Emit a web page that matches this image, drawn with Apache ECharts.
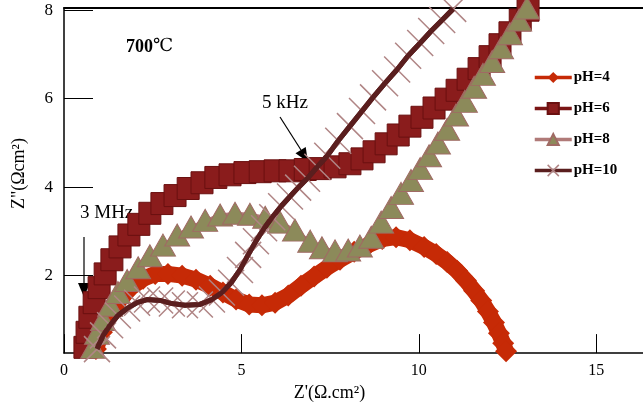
<!DOCTYPE html>
<html>
<head>
<meta charset="utf-8">
<script src="https://cdn.jsdelivr.net/npm/echarts@6/dist/echarts.min.js"></script>
<style>
  html, body { margin: 0; padding: 0; background: #fff; }
  #chart { width: 643px; height: 407px; }
</style>
</head>
<body>
<div id="chart"></div>
<script>
// Nyquist plots of cells at 700 °C, Z' (real) vs Z'' (imaginary), Ω·cm²
const seriesNames = ['pH=4', 'pH=6', 'pH=8', 'pH=10'];

const pH4Re = [0.90, 1.07, 1.30, 1.58, 1.89, 2.23, 2.57, 2.93, 3.33, 3.72, 4.12, 4.48, 4.85, 5.22, 5.58, 5.95, 6.32, 6.68, 7.05, 7.41, 7.78, 8.18, 8.57, 8.97, 9.36, 9.75, 10.15, 10.49, 10.80, 11.08, 11.33, 11.56, 11.76, 11.95, 12.12, 12.26, 12.38, 12.46];
const pH4Im = [0.34, 0.72, 1.10, 1.46, 1.73, 1.93, 2.04, 2.04, 2.00, 1.91, 1.77, 1.62, 1.46, 1.35, 1.33, 1.39, 1.55, 1.77, 1.98, 2.18, 2.36, 2.54, 2.69, 2.83, 2.87, 2.80, 2.65, 2.49, 2.31, 2.11, 1.89, 1.66, 1.44, 1.19, 0.94, 0.70, 0.47, 0.29];

const pH6Re = [0.59, 0.65, 0.73, 0.85, 0.99, 1.16, 1.35, 1.58, 1.83, 2.11, 2.42, 2.76, 3.13, 3.50, 3.89, 4.28, 4.68, 5.10, 5.53, 5.95, 6.37, 6.80, 7.22, 7.64, 8.06, 8.40, 8.74, 9.08, 9.42, 9.75, 10.09, 10.43, 10.77, 11.08, 11.39, 11.70, 12.01, 12.29, 12.57, 12.86, 13.08];
const pH6Im = [0.38, 0.72, 1.06, 1.39, 1.73, 2.04, 2.36, 2.65, 2.92, 3.16, 3.41, 3.63, 3.81, 3.97, 4.10, 4.22, 4.28, 4.33, 4.35, 4.37, 4.37, 4.40, 4.42, 4.46, 4.53, 4.64, 4.80, 4.98, 5.18, 5.38, 5.58, 5.79, 5.99, 6.19, 6.44, 6.68, 6.95, 7.22, 7.49, 7.78, 8.00];

const pH8Re = [0.82, 0.93, 1.10, 1.30, 1.52, 1.78, 2.09, 2.42, 2.79, 3.19, 3.58, 3.98, 4.40, 4.82, 5.24, 5.67, 6.09, 6.51, 6.94, 7.27, 7.64, 8.01, 8.34, 8.66, 8.94, 9.22, 9.50, 9.78, 10.04, 10.29, 10.54, 10.80, 11.05, 11.30, 11.56, 11.81, 12.07, 12.32, 12.57, 12.83, 13.05];
const pH8Im = [0.38, 0.70, 1.01, 1.33, 1.62, 1.89, 2.18, 2.45, 2.69, 2.92, 3.10, 3.25, 3.37, 3.41, 3.39, 3.32, 3.21, 3.03, 2.78, 2.63, 2.56, 2.58, 2.67, 2.87, 3.21, 3.54, 3.86, 4.15, 4.42, 4.71, 5.00, 5.31, 5.63, 5.94, 6.26, 6.55, 6.84, 7.15, 7.47, 7.78, 8.05];

const pH10Re = [0.93, 1.10, 1.30, 1.52, 1.78, 2.06, 2.34, 2.71, 3.04, 3.41, 3.83, 4.17, 4.45, 4.71, 4.96, 5.19, 5.41, 5.64, 5.87, 6.12, 6.37, 6.60, 6.85, 7.14, 7.42, 7.73, 8.06, 8.40, 8.71, 9.05, 9.39, 9.70, 10.04, 10.35, 10.66, 10.97];
const pH10Im = [0.34, 0.65, 0.88, 1.10, 1.26, 1.39, 1.46, 1.44, 1.37, 1.33, 1.35, 1.46, 1.62, 1.84, 2.13, 2.47, 2.78, 3.07, 3.32, 3.57, 3.79, 3.99, 4.19, 4.46, 4.71, 5.05, 5.38, 5.72, 6.03, 6.35, 6.66, 6.97, 7.26, 7.53, 7.78, 8.03];

const xTicks = [0, 5, 10, 15];
const yTicks = [2, 4, 6, 8];

const pairs = (re, im) => re.map((v, i) => [v, im[i]]);

const serif = "'Liberation Serif', 'Times New Roman', serif";
const crossPath = 'path://M0,0L10,10M10,0L0,10';

const chart = echarts.init(document.getElementById('chart'), null, { renderer: 'canvas' });

const option = {
  animation: false,
  backgroundColor: '#fff',
  grid: { left: 64, top: 8, right: 0, bottom: 51 },
  xAxis: [{
    type: 'value', min: 0, max: 16.32,
    name: "Z'(Ω.cm²)", nameLocation: 'middle', nameGap: 28,
    nameTextStyle: { fontFamily: serif, fontSize: 18, color: '#000', padding: [0, 48, 0, 0] },
    axisLine: { lineStyle: { color: '#000', width: 1.5 } },
    axisTick: { inside: true, length: 19, customValues: xTicks, lineStyle: { color: '#000', width: 1 } },
    axisLabel: { customValues: xTicks, margin: 10, fontFamily: serif, fontSize: 16, color: '#000' },
    splitLine: { show: false }
  }, {
    type: 'value', min: 0, max: 16.32, position: 'top',
    axisLine: { show: true, lineStyle: { color: '#000', width: 2 } },
    axisTick: { show: false }, axisLabel: { show: false }, splitLine: { show: false }
  }],
  yAxis: {
    type: 'value', min: 0.25, max: 8.05,
    name: 'Z"(Ωcm²)', nameLocation: 'middle', nameGap: 36,
    nameTextStyle: { fontFamily: serif, fontSize: 18, color: '#000', padding: [0, 0, 0, 14] },
    axisLine: { lineStyle: { color: '#000', width: 1.5 } },
    axisTick: { inside: true, length: 29, customValues: yTicks, lineStyle: { color: '#000', width: 1 } },
    axisLabel: { customValues: yTicks, margin: 11, fontFamily: serif, fontSize: 17, color: '#000' },
    splitLine: { show: false }
  },
  legend: {
    orient: 'vertical', left: 533, top: 70, padding: 0,
    itemWidth: 37, itemHeight: 14, itemGap: 16,
    lineStyle: { width: 3.5 },
    textStyle: { fontFamily: serif, fontSize: 15, fontWeight: 'bold', color: '#000', padding: [0, 0, 0, -3] },
    data: [
      { name: 'pH=4' }, { name: 'pH=6' }, { name: 'pH=8' },
      { name: 'pH=10', itemStyle: { color: 'rgba(0,0,0,0)', borderColor: '#b08585', borderWidth: 1.5 } }
    ]
  },
  series: [
    {
      name: seriesNames[0], type: 'line', z: 2,
      data: pairs(pH4Re, pH4Im),
      symbol: 'diamond', symbolSize: 22,
      itemStyle: { color: '#c62a06' },
      lineStyle: { color: '#c62a06', width: 16 }
    },
    {
      name: seriesNames[1], type: 'line', z: 3,
      data: pairs(pH6Re, pH6Im),
      symbol: 'rect', symbolSize: 22,
      itemStyle: { color: '#8a1c1c', borderColor: '#6a1010', borderWidth: 1 },
      lineStyle: { color: '#7a1515', width: 2 }
    },
    {
      name: seriesNames[2], type: 'line', z: 4,
      data: pairs(pH8Re, pH8Im),
      symbol: 'triangle', symbolSize: [25, 22],
      itemStyle: { color: '#8c8a5a', borderColor: '#a06a64', borderWidth: 1 },
      lineStyle: { color: '#b07a78', width: 3 }
    },
    {
      name: seriesNames[3], type: 'line', z: 5,
      data: pairs(pH10Re, pH10Im),
      symbol: crossPath, symbolSize: 26,
      itemStyle: { color: 'rgba(0,0,0,0)', borderColor: '#b08585', borderWidth: 1.5 },
      lineStyle: { color: '#5a1e1e', width: 5 }
    },
    {
      // the pH=10 trace stroked again above its own markers
      name: 'pH=10 trace', type: 'line', z: 6, silent: true,
      data: pairs(pH10Re, pH10Im),
      showSymbol: false, symbol: 'none',
      lineStyle: { color: '#5a1e1e', width: 5 }
    }
  ],
  graphic: [
    { type: 'text', left: 126, top: 38, style: { text: '700', font: "bold 18px 'Liberation Serif', serif", fill: '#000' } },
    { type: 'text', left: 153, top: 37, style: { text: '℃', font: "18px 'Liberation Serif', 'DejaVu Serif', serif", fill: '#000' } },
    { type: 'text', left: 80, top: 204, style: { text: '3 MHz', font: "19px 'Liberation Serif', serif", fill: '#000' } },
    { type: 'line', shape: { x1: 84, y1: 237, x2: 84, y2: 284 }, style: { stroke: '#000', lineWidth: 1.2 } },
    { type: 'polygon', shape: { points: [[78, 283], [90, 283], [84, 297]] }, style: { fill: '#000' } },
    { type: 'text', left: 262, top: 94, style: { text: '5 kHz', font: "19px 'Liberation Serif', serif", fill: '#000' } },
    { type: 'line', shape: { x1: 280, y1: 117, x2: 301, y2: 150 }, style: { stroke: '#000', lineWidth: 1.2 } },
    { type: 'polygon', shape: { points: [[295.5, 153.3], [305.7, 146.9], [308, 162]] }, style: { fill: '#000' } }
  ]
};

chart.setOption(option);
</script>
</body>
</html>
